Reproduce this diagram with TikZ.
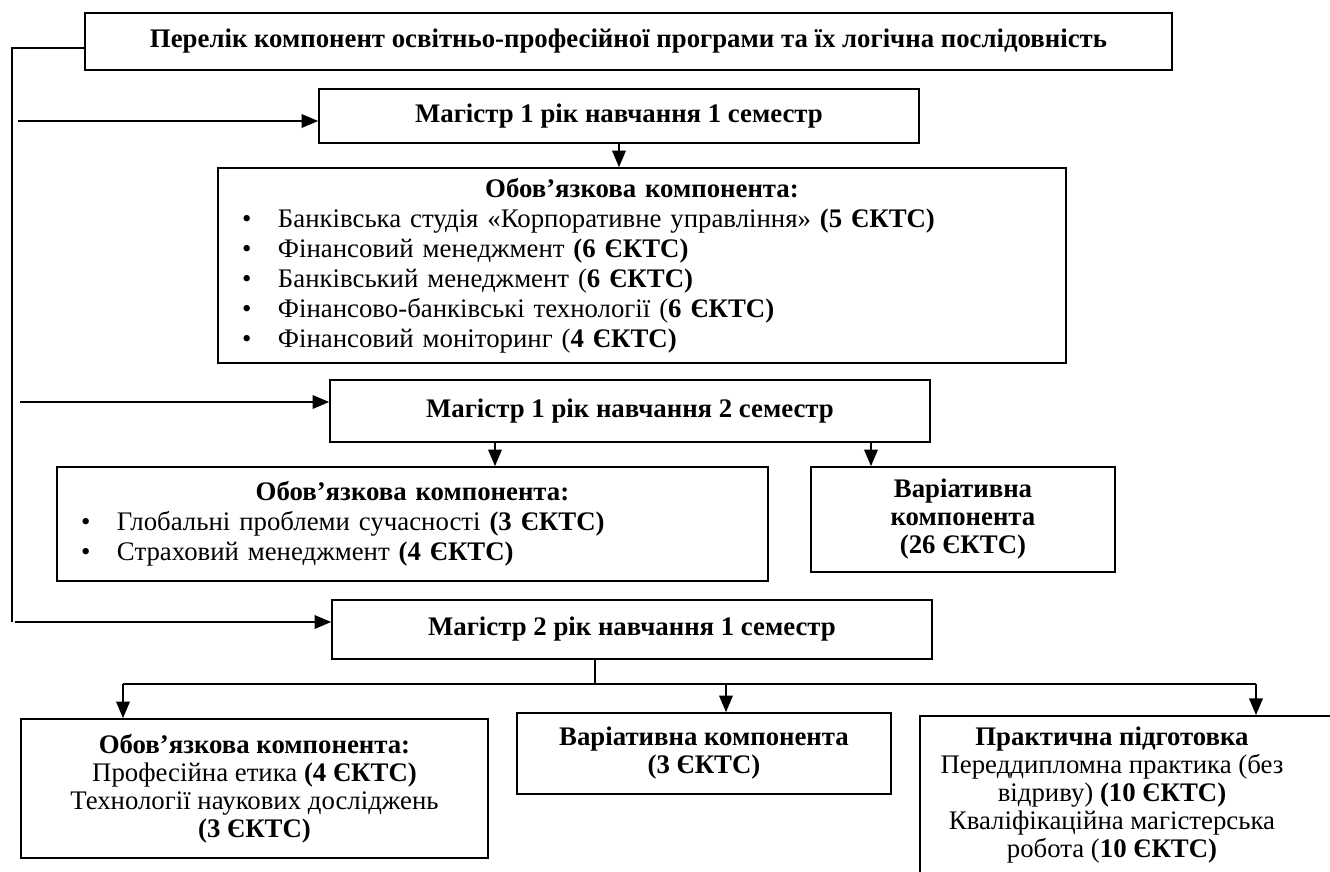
\documentclass[tikz,border=0pt]{standalone}
\usepackage{fontspec}
\setmainfont{Liberation Serif}
\usetikzlibrary{arrows}
\tikzstyle{box}=[draw, line width=0.9pt, inner sep=0pt, align=center, font=\fontsize{13.4}{14}\selectfont]
\tikzstyle{head}=[box, font=\fontsize{13.4}{14}\selectfont\bfseries]
\tikzstyle{list}=[box, align=left, text width=400pt, inner xsep=12pt, font=\fontsize{13.4}{15}\selectfont]
\tikzstyle{link}=[line width=0.9pt, -triangle 45]
\newcommand{\itm}{\makebox[18pt][l]{\textbullet}}

\begin{document}
\begin{tikzpicture}[x=0.5pt, y=-0.5pt]
\useasboundingbox (0,0) rectangle (1330,872);

\node[head, minimum width=543.5pt, minimum height=28.5pt] (title) at (628.5,41.5) {Перелік компонент освітньо-професійної програми та їх логічна послідовність};
\node[head, minimum width=300pt, minimum height=27pt] (sem1) at (619,116) {Магістр 1 рік навчання 1 семестр};
\node[list, minimum width=424pt, minimum height=97.5pt] (obl1) at (642,265.5) {{\centering\bfseries Обов’язкова компонента:\par}\noindent
\itm Банківська студія «Корпоративне управління» \textbf{(5 ЄКТС)}\\
\itm Фінансовий менеджмент \textbf{(6 ЄКТС)}\\
\itm Банківський менеджмент (\textbf{6 ЄКТС)}\\
\itm Фінансово-банківські технології (\textbf{6 ЄКТС)}\\
\itm Фінансовий моніторинг (\textbf{4 ЄКТС)}};
\node[head, minimum width=300pt, minimum height=31pt] (sem2) at (630,411) {Магістр 1 рік навчання 2 семестр};
\node[list, text width=331.5pt, minimum width=355.5pt, minimum height=57pt] (obl2) at (412.5,524) {{\centering\bfseries Обов’язкова компонента:\par}\noindent
\itm Глобальні проблеми сучасності \textbf{(3 ЄКТС)}\\
\itm Страховий менеджмент \textbf{(4 ЄКТС)}};
\node[head, minimum width=152pt, minimum height=52.5pt] (var2) at (963,519.5) {Варіативна\\компонента\\(26 ЄКТС)};
\node[head, minimum width=300pt, minimum height=29.5pt] (sem3) at (632,629.5) {Магістр 2 рік навчання 1 семестр};
\node[box, minimum width=233.5pt, minimum height=69.5pt] (obl3) at (254.5,788.5) {\textbf{Обов’язкова компонента:}\\Професійна етика \textbf{(4 ЄКТС)}\\Технології наукових досліджень\\\textbf{(3 ЄКТС)}};
\node[head, minimum width=187pt, minimum height=40.5pt] (var3) at (704,753.5) {Варіативна компонента\\(3 ЄКТС)};
\begin{scope}
\clip (0,0) rectangle (1330,872);
\node[box, anchor=north west, minimum width=220pt, minimum height=100pt] (prak) at (919,715) {};
\end{scope}
\node[align=center, inner sep=0pt, font=\fontsize{13.4}{14}\selectfont] (praktxt) at (1112,795.5) {\textbf{Практична підготовка}\\Переддипломна практика (без\\відриву) \textbf{(10 ЄКТС)}\\Кваліфікаційна магістерська\\робота (\textbf{10 ЄКТС)}};

\coordinate (sp) at (12,48);
\coordinate (sb) at (12,622);
\coordinate (in1) at (18,121);
\coordinate (in2) at (20,402);
\coordinate (in3) at (15,622);
\coordinate (d1) at (495,0);
\coordinate (d2) at (871,0);
\coordinate (st) at (595,684);
\coordinate (bl) at (123,684);
\coordinate (bm) at (726,684);
\coordinate (br) at (1256,684);

\draw[line width=0.8pt] (title.west |- sp) -- (sp) -- (sb);
\draw[link] (in1) -- (in1 -| sem1.west);
\draw[link] (in2) -- (in2 -| sem2.west);
\draw[link] (in3) -- (in3 -| sem3.west);
\draw[link] (sem1.south) -- (sem1.south |- obl1.north);
\draw[link] (sem2.south -| d1) -- (obl2.north -| d1);
\draw[link] (sem2.south -| d2) -- (var2.north -| d2);
\draw[line width=0.8pt] (st |- sem3.south) -- (st);
\draw[line width=0.9pt] (bl) -- (br);
\draw[link] (bl) -- (bl |- obl3.north);
\draw[link] (bm) -- (bm |- var3.north);
\draw[link] (br) -- (br |- prak.north);
\end{tikzpicture}
\end{document}
